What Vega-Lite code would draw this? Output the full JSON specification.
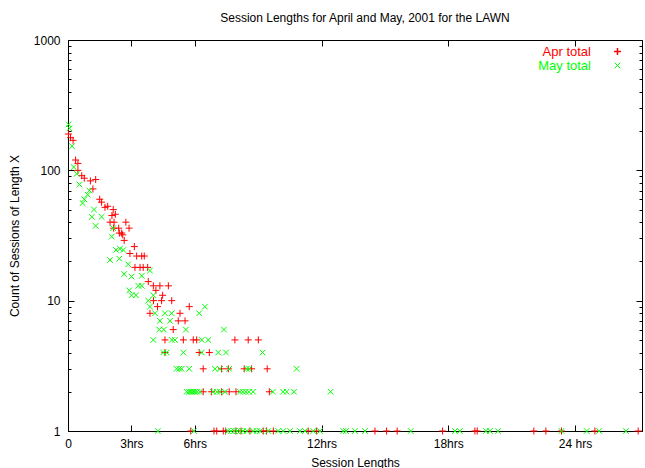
{
  "$schema": "https://vega.github.io/schema/vega-lite/v6.json",
  "autosize": "none",
  "width": 574,
  "height": 391,
  "padding": {"left": 68, "top": 40, "right": 3, "bottom": 37},
  "background": "white",
  "title": {"text": "Session Lengths for April and May, 2001 for the LAWN", "font": "Liberation Sans", "fontSize": 12, "fontWeight": "normal", "color": "black", "anchor": "middle", "dx": 10, "offset": 9},
  "config": {
    "view": {"stroke": "black", "strokeWidth": 1},
    "axis": {"labelFont": "Liberation Sans", "titleFont": "Liberation Sans", "labelFontSize": 12, "titleFontSize": 12, "titleFontWeight": "normal", "labelColor": "black", "titleColor": "black", "domainColor": "black", "tickColor": "black", "grid": false},
    "legend": {"labelFont": "Liberation Sans", "labelFontSize": 13, "padding": 0, "labelAlign": "right", "labelOffset": -33, "symbolStrokeWidth": 1, "symbolSize": 49, "orient": "none", "title": null}
  },
  "data": {"values": [
    {"m":"Apr total","h":0.02,"n":190},{"m":"Apr total","h":0.12,"n":178},{"m":"Apr total","h":0.24,"n":170},{"m":"Apr total","h":0.36,"n":120},{"m":"Apr total","h":0.47,"n":113},{"m":"Apr total","h":0.47,"n":100},{"m":"Apr total","h":0.65,"n":91},{"m":"Apr total","h":0.77,"n":87},{"m":"Apr total","h":1.06,"n":83},{"m":"Apr total","h":1.31,"n":85},{"m":"Apr total","h":1.18,"n":72},{"m":"Apr total","h":1.5,"n":60},{"m":"Apr total","h":1.59,"n":57},{"m":"Apr total","h":1.75,"n":52},{"m":"Apr total","h":1.88,"n":53},{"m":"Apr total","h":2.08,"n":45},{"m":"Apr total","h":2.24,"n":46},{"m":"Apr total","h":2.14,"n":50},{"m":"Apr total","h":1.99,"n":40},{"m":"Apr total","h":2.18,"n":40},{"m":"Apr total","h":2.74,"n":40},{"m":"Apr total","h":2.16,"n":36},{"m":"Apr total","h":2.4,"n":36},{"m":"Apr total","h":2.89,"n":36},{"m":"Apr total","h":2.43,"n":33},{"m":"Apr total","h":2.54,"n":33},{"m":"Apr total","h":2.59,"n":32},{"m":"Apr total","h":2.66,"n":29},{"m":"Apr total","h":3.14,"n":26},{"m":"Apr total","h":2.93,"n":23},{"m":"Apr total","h":3.25,"n":22},{"m":"Apr total","h":3.49,"n":22},{"m":"Apr total","h":3.61,"n":22},{"m":"Apr total","h":3.17,"n":18},{"m":"Apr total","h":3.41,"n":18},{"m":"Apr total","h":3.56,"n":18},{"m":"Apr total","h":3.77,"n":18},{"m":"Apr total","h":3.8,"n":14},{"m":"Apr total","h":4.04,"n":13},{"m":"Apr total","h":4.35,"n":13},{"m":"Apr total","h":4.75,"n":13},{"m":"Apr total","h":4.16,"n":12},{"m":"Apr total","h":4.48,"n":11},{"m":"Apr total","h":4.05,"n":10},{"m":"Apr total","h":4.43,"n":10},{"m":"Apr total","h":4.91,"n":10},{"m":"Apr total","h":4.24,"n":9},{"m":"Apr total","h":5.74,"n":9},{"m":"Apr total","h":3.88,"n":8},{"m":"Apr total","h":5.3,"n":8},{"m":"Apr total","h":5.22,"n":7},{"m":"Apr total","h":5.54,"n":7},{"m":"Apr total","h":4.98,"n":6},{"m":"Apr total","h":4.59,"n":5},{"m":"Apr total","h":5.46,"n":5},{"m":"Apr total","h":5.93,"n":5},{"m":"Apr total","h":6.09,"n":5},{"m":"Apr total","h":7.9,"n":5},{"m":"Apr total","h":8.53,"n":5},{"m":"Apr total","h":9.01,"n":5},{"m":"Apr total","h":4.59,"n":4},{"m":"Apr total","h":6.21,"n":4},{"m":"Apr total","h":6.69,"n":4},{"m":"Apr total","h":6.4,"n":3},{"m":"Apr total","h":7.27,"n":3},{"m":"Apr total","h":7.59,"n":3},{"m":"Apr total","h":8.34,"n":3},{"m":"Apr total","h":8.69,"n":3},{"m":"Apr total","h":9.43,"n":3},{"m":"Apr total","h":6.4,"n":2},{"m":"Apr total","h":6.8,"n":2},{"m":"Apr total","h":7.27,"n":2},{"m":"Apr total","h":7.63,"n":2},{"m":"Apr total","h":7.95,"n":2},{"m":"Apr total","h":9.53,"n":2},{"m":"Apr total","h":5.81,"n":1},{"m":"Apr total","h":6.91,"n":1},{"m":"Apr total","h":7.04,"n":1},{"m":"Apr total","h":7.35,"n":1},{"m":"Apr total","h":7.46,"n":1},{"m":"Apr total","h":7.95,"n":1},{"m":"Apr total","h":8.19,"n":1},{"m":"Apr total","h":8.61,"n":1},{"m":"Apr total","h":9.24,"n":1},{"m":"Apr total","h":9.4,"n":1},{"m":"Apr total","h":9.72,"n":1},{"m":"Apr total","h":11.37,"n":1},{"m":"Apr total","h":11.77,"n":1},{"m":"Apr total","h":14.53,"n":1},{"m":"Apr total","h":15.08,"n":1},{"m":"Apr total","h":15.58,"n":1},{"m":"Apr total","h":17.73,"n":1},{"m":"Apr total","h":19.26,"n":1},{"m":"Apr total","h":19.37,"n":1},{"m":"Apr total","h":22.05,"n":1},{"m":"Apr total","h":22.62,"n":1},{"m":"Apr total","h":23.36,"n":1},{"m":"Apr total","h":24.94,"n":1},{"m":"Apr total","h":26.99,"n":1},
    {"m":"May total","h":0.03,"n":225},{"m":"May total","h":0.07,"n":210},{"m":"May total","h":0.19,"n":153},{"m":"May total","h":0.27,"n":106},{"m":"May total","h":0.41,"n":94},{"m":"May total","h":0.54,"n":78},{"m":"May total","h":1.01,"n":70},{"m":"May total","h":0.93,"n":65},{"m":"May total","h":0.77,"n":60},{"m":"May total","h":0.69,"n":56},{"m":"May total","h":1.23,"n":50},{"m":"May total","h":1.13,"n":44},{"m":"May total","h":1.59,"n":44},{"m":"May total","h":1.31,"n":37.5},{"m":"May total","h":2.14,"n":36},{"m":"May total","h":2.07,"n":31},{"m":"May total","h":2.27,"n":24.5},{"m":"May total","h":2.46,"n":25},{"m":"May total","h":2.62,"n":24.5},{"m":"May total","h":1.99,"n":20.5},{"m":"May total","h":2.43,"n":21},{"m":"May total","h":2.85,"n":19},{"m":"May total","h":3.88,"n":17},{"m":"May total","h":2.66,"n":16},{"m":"May total","h":3.01,"n":15.3},{"m":"May total","h":3.49,"n":15.5},{"m":"May total","h":3.33,"n":13},{"m":"May total","h":3.49,"n":13},{"m":"May total","h":2.9,"n":12},{"m":"May total","h":3.22,"n":11},{"m":"May total","h":3.01,"n":11},{"m":"May total","h":4.04,"n":11},{"m":"May total","h":3.8,"n":10},{"m":"May total","h":3.88,"n":9},{"m":"May total","h":6.48,"n":9},{"m":"May total","h":6.21,"n":8},{"m":"May total","h":4.12,"n":8},{"m":"May total","h":4.59,"n":8},{"m":"May total","h":4.91,"n":8},{"m":"May total","h":4.35,"n":7},{"m":"May total","h":4.83,"n":7},{"m":"May total","h":4.32,"n":6},{"m":"May total","h":4.54,"n":6},{"m":"May total","h":5.58,"n":6},{"m":"May total","h":7.38,"n":6},{"m":"May total","h":4.04,"n":5},{"m":"May total","h":4.91,"n":5},{"m":"May total","h":5.06,"n":5},{"m":"May total","h":6.33,"n":5},{"m":"May total","h":6.64,"n":5},{"m":"May total","h":4.51,"n":4},{"m":"May total","h":4.67,"n":4},{"m":"May total","h":5.46,"n":4},{"m":"May total","h":6.33,"n":4},{"m":"May total","h":7.11,"n":4},{"m":"May total","h":7.48,"n":4},{"m":"May total","h":9.21,"n":4},{"m":"May total","h":5.14,"n":3},{"m":"May total","h":5.27,"n":3},{"m":"May total","h":5.38,"n":3},{"m":"May total","h":5.74,"n":3},{"m":"May total","h":6.96,"n":3},{"m":"May total","h":7.19,"n":3},{"m":"May total","h":7.63,"n":3},{"m":"May total","h":8.46,"n":3},{"m":"May total","h":8.58,"n":3},{"m":"May total","h":10.82,"n":3},{"m":"May total","h":5.62,"n":2},{"m":"May total","h":5.73,"n":2},{"m":"May total","h":5.82,"n":2},{"m":"May total","h":5.92,"n":2},{"m":"May total","h":6.01,"n":2},{"m":"May total","h":6.11,"n":2},{"m":"May total","h":6.25,"n":2},{"m":"May total","h":6.86,"n":2},{"m":"May total","h":7.05,"n":2},{"m":"May total","h":7.19,"n":2},{"m":"May total","h":7.43,"n":2},{"m":"May total","h":8.14,"n":2},{"m":"May total","h":8.28,"n":2},{"m":"May total","h":8.42,"n":2},{"m":"May total","h":8.57,"n":2},{"m":"May total","h":8.76,"n":2},{"m":"May total","h":9.7,"n":2},{"m":"May total","h":10.18,"n":2},{"m":"May total","h":10.35,"n":2},{"m":"May total","h":10.7,"n":2},{"m":"May total","h":12.43,"n":2},{"m":"May total","h":4.25,"n":1},{"m":"May total","h":5.96,"n":1},{"m":"May total","h":7.57,"n":1},{"m":"May total","h":7.71,"n":1},{"m":"May total","h":7.86,"n":1},{"m":"May total","h":8.0,"n":1},{"m":"May total","h":8.14,"n":1},{"m":"May total","h":8.28,"n":1},{"m":"May total","h":8.46,"n":1},{"m":"May total","h":8.77,"n":1},{"m":"May total","h":8.93,"n":1},{"m":"May total","h":9.09,"n":1},{"m":"May total","h":9.48,"n":1},{"m":"May total","h":9.95,"n":1},{"m":"May total","h":10.19,"n":1},{"m":"May total","h":10.51,"n":1},{"m":"May total","h":10.98,"n":1},{"m":"May total","h":11.22,"n":1},{"m":"May total","h":11.61,"n":1},{"m":"May total","h":11.93,"n":1},{"m":"May total","h":13.03,"n":1},{"m":"May total","h":13.16,"n":1},{"m":"May total","h":13.58,"n":1},{"m":"May total","h":14.06,"n":1},{"m":"May total","h":16.22,"n":1},{"m":"May total","h":18.32,"n":1},{"m":"May total","h":18.55,"n":1},{"m":"May total","h":19.78,"n":1},{"m":"May total","h":19.97,"n":1},{"m":"May total","h":20.36,"n":1},{"m":"May total","h":23.36,"n":1},{"m":"May total","h":24.55,"n":1},{"m":"May total","h":25.14,"n":1},{"m":"May total","h":26.41,"n":1}
  ]},
  "layer": [
    {
      "transform": [{"filter": "datum.m === 'Apr total'"}],
      "mark": {"type": "point", "filled": false, "strokeWidth": 1, "size": 49, "opacity": 1, "clip": false, "shape": "M-1,0L1,0M0,-1L0,1"},
      "encoding": {
        "x": {"field": "h", "type": "quantitative", "scale": {"domain": [0, 27.17], "nice": false, "zero": false},
          "axis": {"orient": "bottom", "title": "Session Lengths", "values": [0, 3, 6, 12, 18, 24], "labelExpr": "datum.value == 0 ? '0' : datum.value == 24 ? '24 hrs' : datum.value + 'hrs'", "tickSize": -6, "labelPadding": 13, "titlePadding": 8, "labelFlush": false}},
        "y": {"field": "n", "type": "quantitative", "scale": {"type": "log", "domain": [1, 1000], "nice": false},
          "axis": {"orient": "left", "title": "Count of Sessions of Length X", "values": [1,2,3,4,5,6,7,8,9,10,20,30,40,50,60,70,80,90,100,200,300,400,500,600,700,800,900,1000],
            "labelExpr": "indexof([1,10,100,1000], datum.value) >= 0 ? '' + datum.value : ''",
            "tickSize": {"condition": {"test": "indexof([1,10,100,1000], datum.value) >= 0", "value": -6}, "value": -3},
            "labelPadding": 14, "titlePadding": 12, "labelFlush": false}},
        "stroke": {"field": "m", "type": "nominal", "scale": {"domain": ["Apr total"], "range": ["#ff0000"]},
          "legend": {"legendX": 543, "legendY": 5, "labelColor": "#ff0000", "symbolType": "M-1,0L1,0M0,-1L0,1", "symbolStrokeWidth": 1.5}}
      }
    },
    {
      "transform": [{"filter": "datum.m === 'May total'"}],
      "mark": {"type": "point", "filled": false, "strokeWidth": 1, "size": 49, "opacity": 1, "clip": false, "shape": "M-0.8,-0.8L0.8,0.8M-0.8,0.8L0.8,-0.8"},
      "encoding": {
        "x": {"field": "h", "type": "quantitative", "axis": null},
        "y": {"field": "n", "type": "quantitative", "axis": null},
        "stroke": {"field": "m", "type": "nominal", "scale": {"domain": ["May total"], "range": ["#00ff00"]},
          "legend": {"legendX": 543, "legendY": 19, "labelColor": "#00ff00", "symbolType": "M-0.8,-0.8L0.8,0.8M-0.8,0.8L0.8,-0.8", "symbolStrokeColor": "#00ff00"}}
      }
    },
    {
      "mark": {"type": "point", "opacity": 0},
      "encoding": {
        "x": {"field": "h", "type": "quantitative", "axis": {"orient": "top", "title": null, "labels": false, "values": [0, 3, 6, 12, 18, 24], "tickSize": -6, "domain": false}},
        "y": {"field": "n", "type": "quantitative", "axis": {"orient": "right", "title": null, "labels": false, "domain": false, "values": [1,2,3,4,5,6,7,8,9,10,20,30,40,50,60,70,80,90,100,200,300,400,500,600,700,800,900,1000],
          "tickSize": {"condition": {"test": "indexof([1,10,100,1000], datum.value) >= 0", "value": -6}, "value": -3}}}
      }
    }
  ],
  "resolve": {"axis": {"x": "independent", "y": "independent"}, "scale": {"stroke": "independent"}, "legend": {"stroke": "independent"}}
}
